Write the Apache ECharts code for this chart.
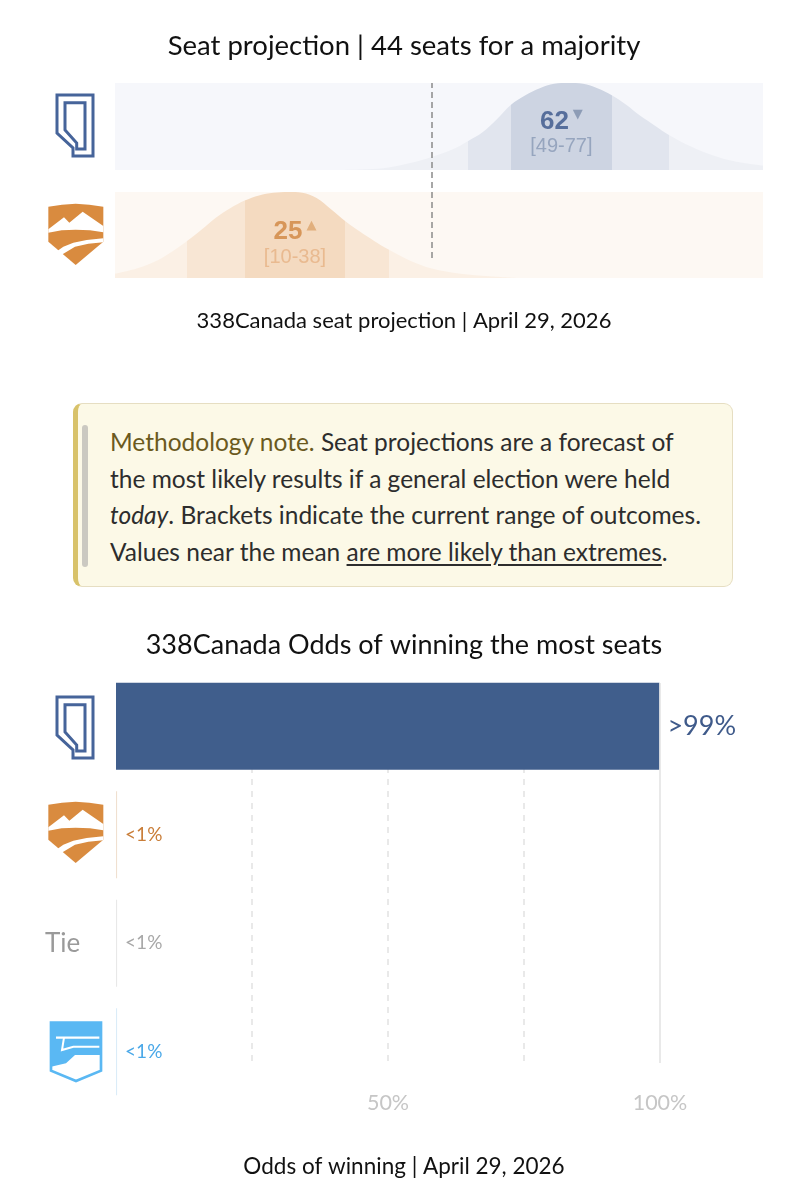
<!DOCTYPE html>
<html>
<head>
<meta charset="utf-8">
<script src="https://cdn.jsdelivr.net/npm/echarts@6/dist/echarts.min.js"></script>
<style>
html,body{margin:0;padding:0;background:#fff;}
#wrap{position:relative;width:808px;height:1200px;overflow:hidden;}
#chart{position:absolute;left:0;top:0;width:808px;height:1200px;}
#note{position:absolute;left:73px;top:403px;width:660px;height:184px;box-sizing:border-box;background:#fcf9e7;border:1.5px solid #e6dec2;border-left:5px solid #d8c26a;border-radius:9px;font-family:Lato,"Open Sans",sans-serif;font-size:24.5px;line-height:36.5px;color:#2d2d2d;padding:20px 0 0 32px;white-space:nowrap;}
#note .bar{position:absolute;left:4px;top:21px;width:6px;height:142px;background:#cbc9c1;border-radius:3px;}
#note .h{color:#6b5a1e;}
#note u{text-underline-offset:3px;text-decoration-thickness:2px;}
</style>
</head>
<body>
<div id="wrap">
  <div id="chart"></div>
  <div id="note"><div class="bar"></div><span class="h">Methodology note.</span> Seat projections are a forecast of<br>the most likely results if a general election were held<br><i>today</i>. Brackets indicate the current range of outcomes.<br>Values near the mean <u>are more likely than extremes</u>.</div>
</div>
<script>
// ---------- data: seat projection ----------
const seatParties = ['UCP', 'NDP'];
const seatMean = [62, 25];
const seatTrend = ['▼', '▲'];
const seatLow = [49, 10];
const seatHigh = [77, 38];
const coreLow = [55, 18];
const coreHigh = [69, 32];
const majority = 44;
const seatAxisMax = 90;
// relative likelihood curves (seats, height 0..1)
const ucpCurveSeats   = [30, 35, 38, 41, 44, 47, 49, 51, 53, 55, 57, 59, 61, 63, 65, 67, 69, 71, 73, 75, 77, 80, 83, 86, 90];
const ucpCurveDensity = [0, 0.01, 0.03, 0.08, 0.15, 0.24, 0.33, 0.43, 0.58, 0.75, 0.86, 0.94, 0.99, 1.0, 0.99, 0.94, 0.86, 0.75, 0.62, 0.51, 0.40, 0.27, 0.17, 0.10, 0.05];
const ndpCurveSeats   = [0, 3, 6, 8, 10, 12, 14, 16, 18, 20, 22, 24, 26, 28, 30, 32, 34, 36, 38, 41, 44, 48, 52, 56];
const ndpCurveDensity = [0.05, 0.11, 0.21, 0.31, 0.43, 0.56, 0.70, 0.81, 0.90, 0.96, 0.99, 1.0, 0.99, 0.93, 0.80, 0.66, 0.54, 0.43, 0.33, 0.20, 0.11, 0.05, 0.02, 0];

// ---------- data: odds of winning ----------
const oddsCategories = ['UCP', 'NDP', 'Tie', 'AP'];
const oddsValues = [99.9, 0.2, 0.2, 0.2];
const oddsLabels = ['>99%', '<1%', '<1%', '<1%'];
const oddsTickLabels = [50, 100];

// ---------- styles ----------
const FONT = 'Lato, "Open Sans", sans-serif';
const NUMFONT = '"Liberation Sans", Arial, sans-serif';
const ndpOrange = '#d98b3f';
const apBlue = '#5ab8f3';
const rowBg = ['#f6f7fb', '#fdf8f3'];
const faint = ['#eef0f5', '#fbf0e5'];
const light = ['#e1e5ee', '#f8e6d4'];
const dark = ['#cdd4e2', '#f4dac0'];
const numColor = ['#38548a', '#d0843f'];
const triColor = ['#7d8dab', '#dca46b'];
const rangeColor = ['#8898b5', '#e6b283'];
const oddsBarColors = ['#405e8c', '#f0e0d0', '#e8e8e8', '#dbecf8'];
const oddsLabelColors = ['#3f5a8a', '#c97d38', '#a8a8a8', '#4aa8e8'];
const oddsLabelSizes = [27, 19, 19, 19];

const chart = echarts.init(document.getElementById('chart'), null, {renderer: 'canvas'});

function pairs(xs, ys) { return xs.map((x, i) => [x, ys[i]]); }
const curves = [pairs(ucpCurveSeats, ucpCurveDensity), pairs(ndpCurveSeats, ndpCurveDensity)];

function ucpIcon(ox, oy) {
  return {
    type: 'group', x: ox, y: oy, children: [
      {type: 'polygon', shape: {points: [[0,0],[36,0],[36,61],[16,61],[16,53],[0,38]]}, style: {fill: 'none', stroke: '#46649a', lineWidth: 3, lineJoin: 'miter'}},
      {type: 'polygon', shape: {points: [[8,7.7],[28,7.7],[28,54],[19.7,54],[19.7,48],[8,35]]}, style: {fill: 'none', stroke: '#46649a', lineWidth: 3, lineJoin: 'miter'}}
    ]
  };
}
function ndpIcon(ox, oy) {
  return {
    type: 'group', x: ox, y: oy, scaleX: 1/3, scaleY: 1/3, children: [
      {type: 'polygon', shape: {points: [[25,50],[66,44],[107,41],[148,44],[190,50],[190,155],[107,225],[25,155]]}, style: {fill: ndpOrange}},
      {type: 'polygon', shape: {points: [[25,118],[72,82],[88,98],[128,65],[190,108],[190,127],[150,121],[107,119],[65,121],[25,128]]}, style: {fill: '#fff'}},
      {type: 'polygon', shape: {points: [[42,190],[70,170],[100,158],[140,150],[190,145],[190,157],[145,161],[105,170],[60,197]]}, style: {fill: '#fff'}}
    ]
  };
}
function apIcon(ox, oy) {
  return {
    type: 'group', x: ox, y: oy, scaleX: 1/3, scaleY: 1/3, children: [
      {type: 'polygon', shape: {points: [[33,68],[183,68],[183,212],[108,243],[33,212]]}, style: {fill: '#fff', stroke: apBlue, lineWidth: 8}},
      {type: 'polygon', shape: {points: [[33,68],[183,68],[183,165],[105,165],[78,190],[33,200]]}, style: {fill: apBlue}},
      {type: 'polyline', shape: {points: [[48,113],[178,113]]}, style: {stroke: '#fff', lineWidth: 7}},
      {type: 'polyline', shape: {points: [[72,113],[66,150],[100,140],[178,140]]}, style: {stroke: '#fff', lineWidth: 6, fill: 'none'}}
    ]
  };
}

const seatLabelSeries = seatParties.map((p, i) => ({
  type: 'scatter', xAxisIndex: i, yAxisIndex: i, symbolSize: 0, silent: true, z: 5,
  data: [[seatMean[i], 0.5]],
  label: {
    show: true, position: 'inside', offset: [0, i === 0 ? 7 : 9],
    formatter: () => '{n|' + seatMean[i] + '}{t|' + seatTrend[i] + '}\n{r|[' + seatLow[i] + '-' + seatHigh[i] + ']}',
    rich: {
      n: {fontFamily: NUMFONT, fontSize: 26, fontWeight: 'bold', color: numColor[i], lineHeight: 26},
      t: {fontFamily: '"DejaVu Sans", sans-serif', fontSize: 13, color: triColor[i], lineHeight: 26, verticalAlign: 'top', padding: [0, 0, 10, 4]},
      r: {fontFamily: NUMFONT, fontSize: 20, color: rangeColor[i], lineHeight: 24}
    }
  }
}));

const curveSeries = seatParties.map((p, i) => ({
  type: 'line', name: p, xAxisIndex: i, yAxisIndex: i, data: curves[i],
  smooth: 0.35, showSymbol: false, silent: true,
  lineStyle: {width: 0, opacity: 0},
  areaStyle: {opacity: 1}, z: 2
}));

const visualMaps = seatParties.map((p, i) => ({
  type: 'piecewise', show: false, seriesIndex: i, dimension: 0,
  pieces: [
    {lt: seatLow[i], color: faint[i]},
    {gte: seatLow[i], lt: coreLow[i], color: light[i]},
    {gte: coreLow[i], lte: coreHigh[i], color: dark[i]},
    {gt: coreHigh[i], lte: seatHigh[i], color: light[i]},
    {gt: seatHigh[i], color: faint[i]}
  ]
}));

const option = {
  animation: false,
  backgroundColor: '#fff',
  title: [
    {text: 'Seat projection | ' + majority + ' seats for a majority', left: 'center', top: 32, padding: 0,
     textStyle: {fontFamily: FONT, fontSize: 27.5, fontWeight: 'normal', color: '#111'}},
    {text: '338Canada seat projection | April 29, 2026', left: 'center', top: 310, padding: 0,
     textStyle: {fontFamily: FONT, fontSize: 22, fontWeight: 'normal', color: '#111'}},
    {text: '338Canada Odds of winning the most seats', left: 'center', top: 632, padding: 0,
     textStyle: {fontFamily: FONT, fontSize: 27, fontWeight: 'normal', color: '#111'}},
    {text: 'Odds of winning | April 29, 2026', left: 'center', top: 1155, padding: 0,
     textStyle: {fontFamily: FONT, fontSize: 22.5, fontWeight: 'normal', color: '#111'}}
  ],
  visualMap: visualMaps,
  grid: [
    {left: 115, right: 45, top: 83, height: 87, show: true, backgroundColor: rowBg[0], borderWidth: 0},
    {left: 115, right: 45, top: 192, height: 86, show: true, backgroundColor: rowBg[1], borderWidth: 0},
    {left: 115, right: 45, top: 83, height: 175},
    {left: 116, right: 148, top: 683, height: 380},
    {left: 116, right: 148, top: 672, height: 434}
  ],
  xAxis: [
    {gridIndex: 0, type: 'value', min: 0, max: seatAxisMax, show: false},
    {gridIndex: 1, type: 'value', min: 0, max: seatAxisMax, show: false},
    {gridIndex: 2, type: 'value', min: 0, max: seatAxisMax, show: false},
    {gridIndex: 3, type: 'value', min: 0, max: 100, interval: 25,
     axisLine: {show: false}, axisTick: {show: false},
     splitLine: {show: true, showMinLine: false, showMaxLine: false, lineStyle: {type: [6, 6], color: '#e2e2e2', width: 1.5}},
     axisLabel: {margin: 29, fontFamily: FONT, fontSize: 21.5, color: '#c6c6c6',
       formatter: v => oddsTickLabels.indexOf(v) >= 0 ? v + '%' : ''}},
    {gridIndex: 4, type: 'value', min: 0, max: 100, show: false}
  ],
  yAxis: [
    {gridIndex: 0, type: 'value', min: 0, max: 1, show: false},
    {gridIndex: 1, type: 'value', min: 0, max: 1, show: false},
    {gridIndex: 2, type: 'value', min: 0, max: 1, show: false},
    {gridIndex: 3, type: 'value', min: 0, max: 1, show: false},
    {gridIndex: 4, type: 'category', data: oddsCategories, inverse: true, show: false}
  ],
  series: [
    ...curveSeries,
    ...seatLabelSeries,
    {
      type: 'scatter', xAxisIndex: 2, yAxisIndex: 2, symbolSize: 0, silent: true,
      data: [[majority, 0]],
      markLine: {silent: true, symbol: 'none', label: {show: false},
        lineStyle: {type: [6, 4], color: '#8a8a8a', width: 1.5},
        data: [{xAxis: majority}]}, z: 4
    },
    {
      type: 'scatter', xAxisIndex: 3, yAxisIndex: 3, symbolSize: 0, silent: true,
      data: [[100, 0]],
      markLine: {silent: true, symbol: 'none', label: {show: false},
        lineStyle: {type: 'solid', color: '#e2e2e2', width: 1.5},
        data: [{xAxis: 100}]}, z: 1
    },
    {
      type: 'bar', xAxisIndex: 4, yAxisIndex: 4, barWidth: 87, silent: true, z: 3,
      data: oddsValues.map((v, i) => ({
        value: v,
        itemStyle: {color: oddsBarColors[i]},
        label: {color: oddsLabelColors[i], fontSize: oddsLabelSizes[i]}
      })),
      label: {show: true, position: 'right', distance: 8, fontFamily: FONT,
        formatter: p => oddsLabels[p.dataIndex]}
    }
  ],
  graphic: [
    ucpIcon(57, 95),
    ndpIcon(40, 190),
    ucpIcon(57, 697),
    ndpIcon(40, 788),
    {type: 'text', x: 45, y: 944, style: {text: 'Tie', fontFamily: FONT, fontSize: 26, fill: '#9a9a9a', verticalAlign: 'middle'}},
    apIcon(40, 1000)
  ]
};
chart.setOption(option);
</script>
</body>
</html>
